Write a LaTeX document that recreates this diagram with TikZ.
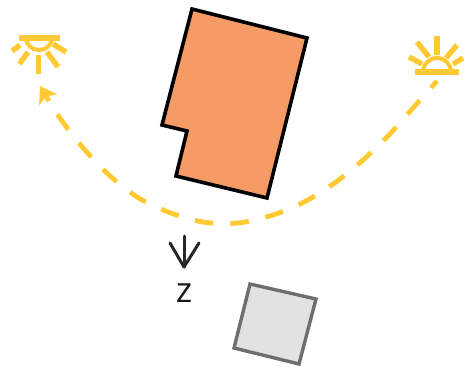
\documentclass[tikz,border=0pt]{standalone}
\usepackage{fontspec}
\setmainfont{Open Sans}
\usepackage{xcolor}
\usetikzlibrary{positioning,arrows.meta,calc}
\definecolor{sunyellow}{HTML}{FFC933}
\definecolor{roomorange}{HTML}{F59C66}
\definecolor{boxgray}{HTML}{E2E2E2}
\definecolor{edgegray}{HTML}{6E6E6E}

\begin{document}
\begin{tikzpicture}[
  x=1pt, y=-1pt,
  room/.style={draw=black, fill=roomorange, line width=3.6pt, line join=miter},
  probe/.style={draw=edgegray, fill=boxgray, line width=3.4pt, line join=miter},
  ray/.style={draw=sunyellow, line width=5.4pt},
  sunpath/.style={draw=sunyellow, line width=4.8pt, dash pattern=on 18.6pt off 17pt, dash phase=9.6pt},
  axis/.style={draw=black!85, line width=3pt, line cap=round, line join=round},
  label/.style={font=\fontsize{35}{37}\selectfont, text=black!90, inner sep=0pt}
]
  \useasboundingbox (0,0) rectangle (468,372);

  % building and probe
  \draw[room] (192,9) -- (307,38) -- (267,198) -- (176,176) -- (187,131) -- (162,125) -- cycle;
  \draw[probe] (250,284) -- (316,299) -- (299,364) -- (234,348) -- cycle;

  % left sun
  \draw[ray] (19,38) -- (60,38);
  \draw[ray, line width=4pt] (26,38) arc[start angle=180, end angle=360, x radius=13, y radius=-12];
  \foreach \a/\b/\c/\d in {38.5/55/38.5/74, 28/52/19.5/64, 47/52/58/67, 20/45/12/51, 53/44/66/52}
    \draw[ray] (\a,\b) -- (\c,\d);

  % right sun
  \draw[ray] (415,72) -- (459,72);
  \draw[ray, line width=4pt] (423,72) arc[start angle=180, end angle=360, x radius=14, y radius=14];
  \foreach \a/\b/\c/\d in {437/36/437/55, 417/42/429/57, 457/45/446/58, 409/57/422/64, 463/58/453/64}
    \draw[ray] (\a,\b) -- (\c,\d);

  % sun path
  \coordinate (start) at (437,81);
  \coordinate (stop) at (49,101);
  \coordinate (tip) at (40,86);
  \draw[sunpath] plot[smooth, tension=0.5] coordinates {(start) (413,108) (389,135) (363,160)
    (336,182) (306,201) (273,215) (238,223) (203,222) (168,212) (137,197) (109,175) (84,149) (62,121) (stop)};
  \draw[draw=sunyellow, line width=4.8pt, -{Stealth[length=16pt,width=21pt,inset=4pt]}] (stop) -- (tip);

  % z direction
  \coordinate (ztop) at (184,236);
  \coordinate (ztip) at (184,267);
  \coordinate (zleft) at (170,243);
  \coordinate (zright) at (199,243);
  \draw[axis] (ztop) -- (ztip);
  \draw[axis] (zleft) -- (ztip) -- (zright);
  \node[label] (zlabel) at (184,293) {z};
\end{tikzpicture}
\end{document}
